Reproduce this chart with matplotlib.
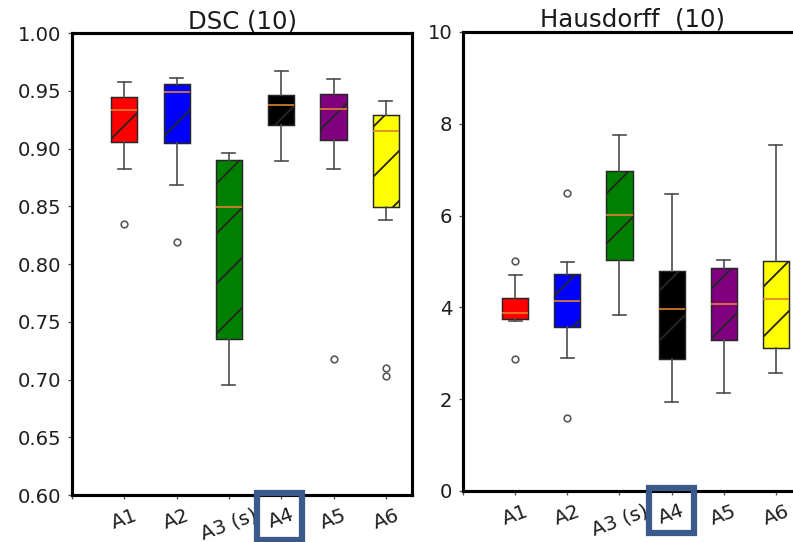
"""Box plots of DSC and Hausdorff distance per method."""

import matplotlib

matplotlib.use("Agg")
import matplotlib.pyplot as plt
from matplotlib.patches import Rectangle

METHODS = ["A1", "A2", "A3 (s)", "A4", "A5", "A6"]
BOX_COLORS = ["red", "blue", "green", "black", "purple", "yellow"]

# DSC (10)
dsc_whislo = [0.882, 0.868, 0.695, 0.889, 0.882, 0.838]
dsc_q1 = [0.906, 0.905, 0.735, 0.920, 0.907, 0.849]
dsc_med = [0.933, 0.949, 0.849, 0.938, 0.934, 0.915]
dsc_q3 = [0.945, 0.956, 0.890, 0.946, 0.947, 0.929]
dsc_whishi = [0.958, 0.961, 0.896, 0.967, 0.960, 0.941]
dsc_fliers = [[0.835], [0.819], [], [], [0.718], [0.710, 0.703]]

# Hausdorff (10)
hd_whislo = [3.70, 2.90, 3.84, 1.93, 2.13, 2.56]
hd_q1 = [3.74, 3.58, 5.03, 2.88, 3.29, 3.11]
hd_med = [3.87, 4.14, 6.02, 3.96, 4.07, 4.18]
hd_q3 = [4.21, 4.73, 6.97, 4.79, 4.85, 5.02]
hd_whishi = [4.71, 4.99, 7.76, 6.46, 5.03, 7.53]
hd_fliers = [[5.01, 2.88], [6.50, 1.60], [], [], [], []]

plt.rcParams["hatch.linewidth"] = 0.9
plt.rcParams["hatch.color"] = "black"
plt.rcParams["font.family"] = "DejaVu Sans"


def make_stats(whislo, q1, med, q3, whishi, fliers):
    return [
        {"whislo": a, "q1": b, "med": c, "q3": d, "whishi": e, "fliers": f, "label": m}
        for a, b, c, d, e, f, m in zip(whislo, q1, med, q3, whishi, fliers, METHODS)
    ]


def draw_panel(ax, title, stats, ylim, yticks, fmt):
    bp = ax.bxp(
        stats,
        positions=range(1, len(stats) + 1),
        widths=0.5,
        patch_artist=True,
        boxprops=dict(edgecolor="0.15", linewidth=0.7),
        whiskerprops=dict(color="0.3", linewidth=0.8),
        capprops=dict(color="0.3", linewidth=0.8),
        medianprops=dict(color="#e0822a", linewidth=0.8),
        flierprops=dict(marker="o", markerfacecolor="none",
                        markeredgecolor="0.35", markersize=3.2,
                        markeredgewidth=0.8),
    )
    for box, col in zip(bp["boxes"], BOX_COLORS):
        box.set_facecolor(col)
        box.set_hatch("/")
    ax.set_xlim(0, 6.5)
    ax.set_ylim(*ylim)
    ax.set_yticks(yticks)
    ax.set_yticklabels([fmt.format(t) for t in yticks], fontsize=9.4, color="0.12")
    ax.set_xticks(range(0, len(stats) + 1))
    ax.set_xticklabels([""] + METHODS, rotation=20, fontsize=9.6, color="0.12")
    ax.tick_params(length=2, width=0.6, pad=3, color="0.3")
    for sp in ax.spines.values():
        sp.set_linewidth(1.5)
    ax.set_title(title, fontsize=11.7, pad=2, color="0.1")


fig = plt.figure(figsize=(793 / 150, 542 / 150), dpi=150)
ax_dsc = fig.add_axes([0.0908, 0.0867, 0.4288, 0.8524])
ax_hd = fig.add_axes([0.5839, 0.0941, 0.4275, 0.8469])

draw_panel(ax_dsc, "DSC (10)",
           make_stats(dsc_whislo, dsc_q1, dsc_med, dsc_q3, dsc_whishi, dsc_fliers),
           (0.60, 1.00), [0.60 + 0.05 * i for i in range(9)], "{:.2f}")
draw_panel(ax_hd, "Hausdorff  (10)",
           make_stats(hd_whislo, hd_q1, hd_med, hd_q3, hd_whishi, hd_fliers),
           (0, 10), list(range(0, 11, 2)), "{:d}")

# highlight frames around the A4 labels
for x0, y0, h in [(0.3241, 0.0037, 0.0867), (0.8184, 0.0166, 0.0830)]:
    fig.patches.append(Rectangle((x0, y0), 0.0567, h, transform=fig.transFigure,
                                 fill=False, edgecolor="#3a5a8c", linewidth=3.0))

fig.savefig("out.png", dpi=150)
